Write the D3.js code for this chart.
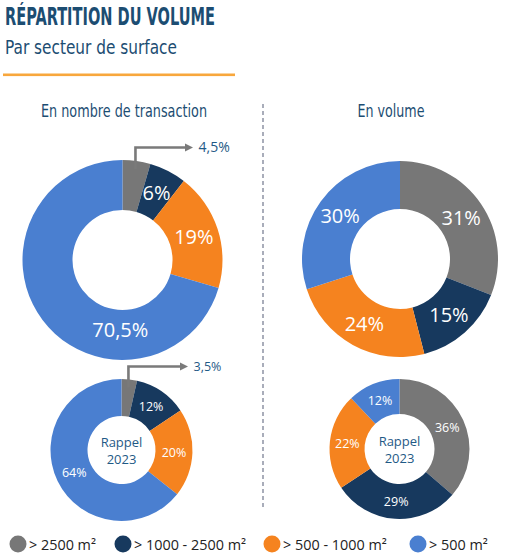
<!DOCTYPE html>
<html>
<head>
<meta charset="utf-8">
<script src="https://cdn.jsdelivr.net/npm/d3@7"></script>
<style>
  body { margin: 0; background: #fff; }
  svg { display: block; }
</style>
</head>
<body>
<svg id="chart" width="505" height="557"></svg>
<script>
// data
var categories = ["> 2500 m²", "> 1000 - 2500 m²", "> 500 - 1000 m²", "> 500 m²"];
var colors = ["#777777", "#17395e", "#f5831f", "#4a7fd0"];
var transaction2024 = [4.5, 6, 19, 70.5];
var volume2024 = [31, 15, 24, 30];
var transaction2023 = [3.5, 12, 20, 64];
var volume2023 = [36, 29, 22, 12];

var titleText = "RÉPARTITION DU VOLUME";
var subtitleText = "Par secteur de surface";
var columnTitles = ["En nombre de transaction", "En volume"];
var centerText = ["Rappel", "2023"];

var svg = d3.select("#chart");
var TITLE_BLUE = "#1c4d72";
var LABEL_BLUE = "#1f5a86";
var condensed = "'Liberation Sans Narrow', 'DejaVu Sans Condensed', sans-serif";
var bodyFont = "'Open Sans', 'Noto Sans', sans-serif";

// header
svg.append("text")
  .attr("x", 5).attr("y", 25)
  .attr("font-family", condensed).attr("font-weight", "bold")
  .attr("font-size", 24).attr("fill", TITLE_BLUE)
  .attr("textLength", 210).attr("lengthAdjust", "spacingAndGlyphs")
  .text(titleText);
svg.append("text")
  .attr("x", 5).attr("y", 54)
  .attr("font-family", condensed)
  .attr("font-size", 19.5).attr("fill", TITLE_BLUE)
  .attr("textLength", 172).attr("lengthAdjust", "spacingAndGlyphs")
  .text(subtitleText);
svg.append("rect")
  .attr("x", 3).attr("y", 73.5).attr("width", 232).attr("height", 2.6)
  .attr("fill", "#f8a73c");

// column headers
var colX = [124, 391];
var colW = [166, 67];
columnTitles.forEach(function(t, i){
  svg.append("text")
    .attr("x", colX[i]).attr("y", 117)
    .attr("text-anchor", "middle")
    .attr("font-family", condensed)
    .attr("font-size", 18.5).attr("fill", TITLE_BLUE)
    .attr("textLength", colW[i]).attr("lengthAdjust", "spacingAndGlyphs")
    .text(t);
});

// divider
svg.append("line")
  .attr("x1", 263).attr("x2", 263).attr("y1", 104).attr("y2", 508)
  .attr("stroke", "#a9adba").attr("stroke-width", 2)
  .attr("stroke-dasharray", "4,3");

// arrow marker
svg.append("defs").append("marker")
  .attr("id", "arrow")
  .attr("viewBox", "0 0 10 10")
  .attr("refX", 2).attr("refY", 5)
  .attr("markerWidth", 3.2).attr("markerHeight", 3.2)
  .attr("orient", "auto")
  .append("path").attr("d", "M0,0 L10,5 L0,10 Z").attr("fill", "#7a7a7a");

function fmt(v){
  return String(v).replace(".", ",") + "%";
}

var pie = d3.pie().sort(null).value(function(d){ return d; });

function drawDonut(values, cfg){
  var g = svg.append("g").attr("transform", "translate(" + cfg.cx + "," + cfg.cy + ")");
  var arc = d3.arc().innerRadius(cfg.inner).outerRadius(cfg.outer);
  var arcs = pie(values);

  g.selectAll("path.slice")
    .data(arcs)
    .enter().append("path")
    .attr("class", "slice")
    .attr("d", arc)
    .attr("fill", function(d, i){ return colors[i]; });

  arcs.forEach(function(d, i){
    if (d.value < 5) {
      // small slice: label goes out with an arrow
      var mid = (d.startAngle + d.endAngle) / 2;
      var r = cfg.outer - 8;
      var x0 = Math.sin(mid) * r;
      var y0 = -Math.cos(mid) * r;
      var yTop = -cfg.outer - 12.5;
      var xEnd = cfg.calloutEnd;
      g.append("path")
        .attr("d", "M" + x0 + "," + y0 + " L" + x0 + "," + yTop + " L" + xEnd + "," + yTop)
        .attr("fill", "none").attr("stroke", "#7a7a7a").attr("stroke-width", 2.6)
        .attr("marker-end", "url(#arrow)");
      g.append("text")
        .attr("x", xEnd + 12).attr("y", yTop + 4.5)
        .attr("font-family", bodyFont).attr("font-size", cfg.calloutSize)
        .attr("fill", LABEL_BLUE)
        .text(fmt(d.value));
      return;
    }
    var c = arc.centroid(d);
    if (cfg.bigLabelBottom && d.value > 50) {
      var rr = (cfg.inner + cfg.outer) / 2 - 5;
      c = [Math.sin(Math.PI * 1.01) * rr, -Math.cos(Math.PI * 1.01) * rr];
    }
    g.append("text")
      .attr("x", c[0]).attr("y", c[1])
      .attr("dy", "0.36em")
      .attr("text-anchor", "middle")
      .attr("font-family", bodyFont).attr("font-size", cfg.labelSize)
      .attr("fill", "#ffffff")
      .text(fmt(d.value));
  });

  if (cfg.center) {
    centerText.forEach(function(t, i){
      g.append("text")
        .attr("x", 0).attr("y", -3 + i * 17)
        .attr("text-anchor", "middle")
        .attr("font-family", bodyFont).attr("font-size", 13)
        .attr("fill", LABEL_BLUE)
        .text(t);
    });
  }
}

drawDonut(transaction2024, { cx: 122.5, cy: 260, outer: 100, inner: 50, labelSize: 20, calloutSize: 14, calloutEnd: 64, bigLabelBottom: true });
drawDonut(volume2024, { cx: 400, cy: 259, outer: 98, inner: 50, labelSize: 20 });
drawDonut(transaction2023, { cx: 121.5, cy: 450, outer: 71, inner: 34, labelSize: 12.5, calloutSize: 12.5, calloutEnd: 60, center: true });
drawDonut(volume2023, { cx: 399.5, cy: 449, outer: 70, inner: 35, labelSize: 12.5, center: true });

// legend
var legendX = [18, 123, 272, 418];
var legend = svg.append("g");
categories.forEach(function(cat, i){
  legend.append("circle")
    .attr("cx", legendX[i]).attr("cy", 544).attr("r", 8.5)
    .attr("fill", colors[i]);
  legend.append("text")
    .attr("x", legendX[i] + 11).attr("y", 549.5)
    .attr("font-family", bodyFont).attr("font-size", 14.4)
    .attr("fill", "#222222")
    .text(cat);
});
</script>
</body>
</html>
